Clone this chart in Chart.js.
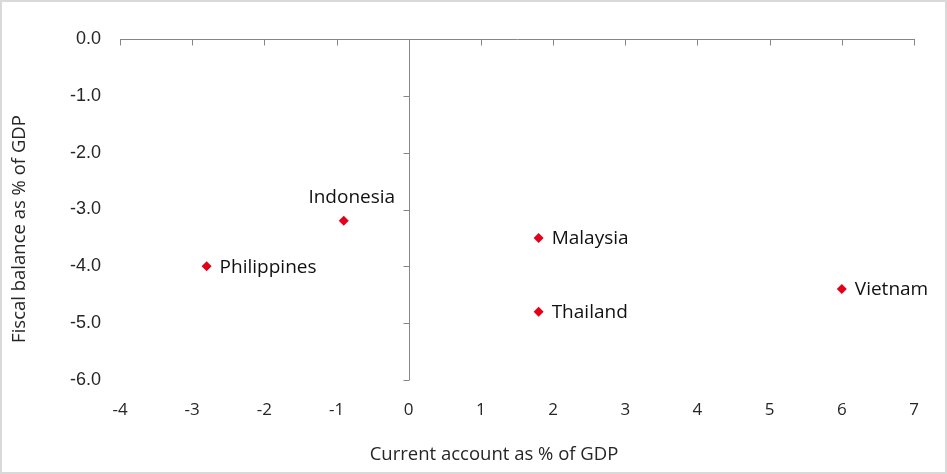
<!DOCTYPE html>
<html>
<head>
<meta charset="utf-8">
<script src="https://cdn.jsdelivr.net/npm/chart.js@4.4.0/dist/chart.umd.min.js"></script>
<style>
    html, body { margin: 0; padding: 0; background: #fff; }
    canvas { display: block; }
</style>
</head>
<body>
<canvas id="grafico-balance" width="947" height="474"></canvas>
<script>
// datos
var paises = ['Indonesia', 'Malaysia', 'Philippines', 'Thailand', 'Vietnam'];
var cuentaCorriente = [-0.9, 1.8, -2.8, 1.8, 6.0];
var balanceFiscal = [-3.2, -3.5, -4.0, -4.8, -4.4];
var ticksX = [-4, -3, -2, -1, 0, 1, 2, 3, 4, 5, 6, 7];
var ticksY = [0, -1, -2, -3, -4, -5, -6];
var tituloX = 'Current account as % of GDP';
var tituloY = 'Fiscal balance as % of GDP';

var puntos = [];
for (var i = 0; i < paises.length; i++) {
    puntos.push({ x: cuentaCorriente[i], y: balanceFiscal[i] });
}

var colorEje = '#868686';
var fuente = '"Open Sans", "Noto Sans", sans-serif';

// ejes cruzados: linea en y=0 arriba y linea en x=0, con sus marcas
var ejesPlugin = {
    id: 'ejes',
    afterDatasetsDraw: function (chart) {
        var ctx = chart.ctx;
        var sx = chart.scales.x, sy = chart.scales.y;
        var y0 = Math.round(sy.getPixelForValue(0)) + 0.5;
        var x0 = Math.round(sx.getPixelForValue(0)) + 0.5;
        ctx.save();
        ctx.strokeStyle = colorEje;
        ctx.lineWidth = 1;
        ctx.beginPath();
        ctx.moveTo(sx.getPixelForValue(ticksX[0]), y0);
        ctx.lineTo(sx.getPixelForValue(ticksX[ticksX.length - 1]) + 1, y0);
        ticksX.forEach(function (t) {
            var px = Math.round(sx.getPixelForValue(t)) + 0.5;
            ctx.moveTo(px, y0);
            ctx.lineTo(px, y0 + 6);
        });
        ctx.moveTo(x0, sy.getPixelForValue(ticksY[0]));
        ctx.lineTo(x0, sy.getPixelForValue(ticksY[ticksY.length - 1]));
        ticksY.forEach(function (t) {
            var py = Math.round(sy.getPixelForValue(t)) + 0.5;
            ctx.moveTo(x0, py);
            ctx.lineTo(x0 - 6, py);
        });
        ctx.stroke();
        ctx.restore();
    }
};

// etiquetas de paises y titulos de ejes
var textosPlugin = {
    id: 'textos',
    afterDraw: function (chart) {
        var ctx = chart.ctx;
        var meta = chart.getDatasetMeta(0);
        ctx.save();
        ctx.fillStyle = '#111';
        ctx.font = '19px ' + fuente;
        meta.data.forEach(function (p, i) {
            ctx.textBaseline = 'middle';
            if (paises[i] === 'Indonesia') {
                ctx.textAlign = 'center';
                ctx.fillText(paises[i], p.x + 8, p.y - 23);
            } else {
                ctx.textAlign = 'left';
                ctx.fillText(paises[i], p.x + 13, p.y + 1);
            }
        });
        ctx.font = '18.5px ' + fuente;
        ctx.fillStyle = '#262626';
        ctx.textAlign = 'center';
        ctx.textBaseline = 'middle';
        ctx.fillText(tituloX, 494, 455);
        ctx.translate(20, 229);
        ctx.rotate(-Math.PI / 2);
        ctx.fillText(tituloY, 0, 0);
        ctx.restore();

        // marco del grafico
        ctx.save();
        ctx.strokeStyle = '#d9d9d9';
        ctx.lineWidth = 2;
        ctx.strokeRect(1, 1, chart.width - 2, chart.height - 2);
        ctx.restore();
    }
};

const ctx = document.getElementById('grafico-balance');
var miGrafico = new Chart(ctx, {
    type: 'scatter',
    data: {
        datasets: [{
            label: 'Paises',
            data: puntos,
            backgroundColor: '#e2001a',
            borderColor: '#e2001a',
            pointStyle: 'rectRot',
            pointRadius: 5,
            pointHoverRadius: 5,
            borderWidth: 0
        }]
    },
    options: {
        responsive: false,
        animation: false,
        devicePixelRatio: 1,
        layout: { padding: { left: 0, right: 33, top: 39, bottom: 0 } },
        plugins: {
            legend: { display: false },
            tooltip: { enabled: false }
        },
        scales: {
            x: {
                type: 'linear',
                min: ticksX[0],
                max: ticksX[ticksX.length - 1],
                afterBuildTicks: function (scale) {
                    scale.ticks = ticksX.map(function (v) { return { value: v }; });
                },
                afterFit: function (scale) { scale.height = 94; },
                grid: { display: false, drawTicks: false },
                border: { display: false },
                ticks: {
                    color: '#262626',
                    padding: 20,
                    font: { family: fuente, size: 17 }
                }
            },
            y: {
                type: 'linear',
                min: ticksY[ticksY.length - 1],
                max: ticksY[0],
                afterBuildTicks: function (scale) {
                    scale.ticks = ticksY.map(function (v) { return { value: v }; });
                },
                afterFit: function (scale) { scale.width = 120; },
                grid: { display: false, drawTicks: false },
                border: { display: false },
                ticks: {
                    color: '#262626',
                    padding: 19,
                    font: { family: '"Liberation Sans", Arial, sans-serif', size: 18 },
                    callback: function (v) { return v.toFixed(1); }
                }
            }
        }
    },
    plugins: [ejesPlugin, textosPlugin]
});
</script>
</body>
</html>
